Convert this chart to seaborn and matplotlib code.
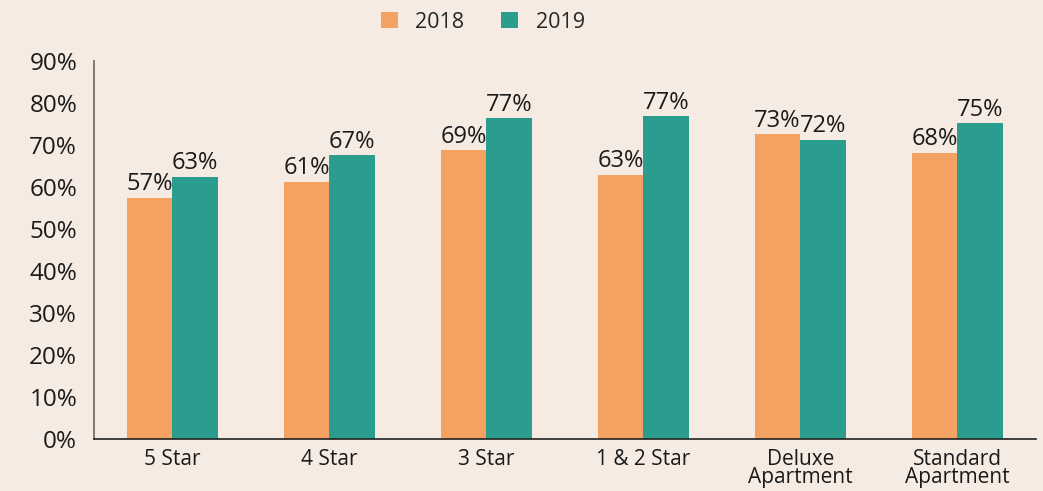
import pandas as pd
import matplotlib.pyplot as plt
import seaborn as sns

# Occupancy by hotel category, 2018 vs 2019
categories = ['5 Star', '4 Star', '3 Star', '1 & 2 Star', 'Deluxe\nApartment', 'Standard\nApartment']
occ_2018 = [57.4, 61.2, 68.8, 62.9, 72.6, 68.1]
occ_2019 = [62.4, 67.6, 76.4, 76.9, 71.2, 75.2]
labels_2018 = ['57%', '61%', '69%', '63%', '73%', '68%']
labels_2019 = ['63%', '67%', '77%', '77%', '72%', '75%']

df = pd.DataFrame({
    'category': categories * 2,
    'year': ['2018'] * len(categories) + ['2019'] * len(categories),
    'value': occ_2018 + occ_2019,
})

bg = '#F6EBE3'
palette = {'2018': '#F4A261', '2019': '#2A9D8F'}

sns.set_style('white')
plt.rcParams['font.family'] = ['Open Sans', 'DejaVu Sans']

fig = plt.figure(figsize=(10.43, 4.91), dpi=100, facecolor=bg)
ax = fig.add_axes([0.090, 0.106, 0.903, 0.770])
ax.set_facecolor(bg)

sns.barplot(data=df, x='category', y='value', hue='year', palette=palette,
            width=0.58, saturation=1, ax=ax, errorbar=None, linewidth=0)

for cont, labs in zip(ax.containers, [labels_2018, labels_2019]):
    ax.bar_label(cont, labels=labs, padding=1, fontsize=17, color='#1a1a1a')

ax.set_ylim(0, 90)
ax.set_xlim(-0.5, len(categories) - 0.5)
ax.set_yticks(range(0, 91, 10))
ax.set_yticklabels([f'{v}%' for v in range(0, 91, 10)], fontsize=17.5, color='#1a1a1a')
ax.set_xticks(range(len(categories)))
ax.set_xticklabels(categories, fontsize=15, color='#1a1a1a', linespacing=0.85)
ax.set_xticks([i - 0.5 for i in range(len(categories) + 1)], minor=True)
ax.tick_params(axis='x', which='major', length=0, pad=7)
ax.tick_params(axis='x', which='minor', length=6, color='#555555', width=1.2)
ax.tick_params(axis='y', length=6, color='#555555', width=1.2, pad=6)

for side in ['top', 'right']:
    ax.spines[side].set_visible(False)
ax.spines['left'].set_color('#666666')
ax.spines['left'].set_linewidth(1.2)
ax.spines['bottom'].set_color('#222222')
ax.spines['bottom'].set_linewidth(1.2)

ax.set_xlabel('')
ax.set_ylabel('')
ax.legend(loc='center', bbox_to_anchor=(0.463, 0.955), bbox_transform=fig.transFigure,
          ncol=2, frameon=False, fontsize=15.5, handlelength=0.8, handleheight=0.8,
          columnspacing=1.7, handletextpad=0.8)

fig.savefig('out.png', dpi=100, facecolor=bg)
